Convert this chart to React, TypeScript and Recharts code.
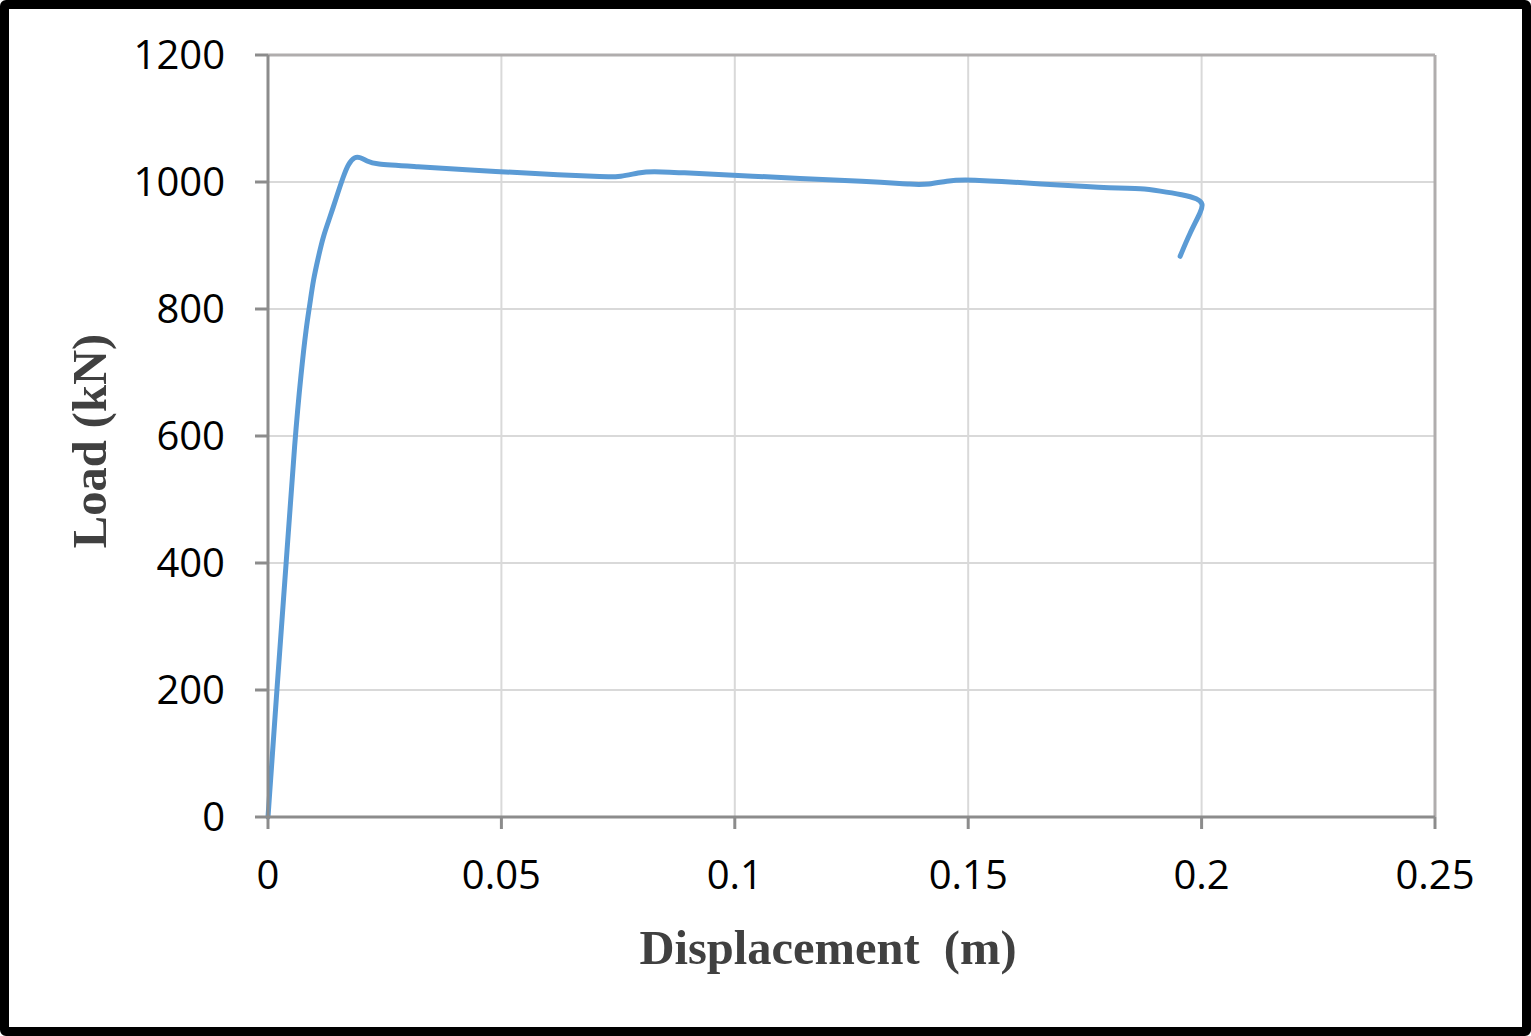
import { LineChart, Line, XAxis, YAxis, CartesianGrid, ReferenceLine } from 'recharts';

const displacement = [
  0, 0.002, 0.0039, 0.0058, 0.0071, 0.0082, 0.009, 0.0097, 0.0108, 0.0118, 0.0133, 0.0147,
  0.0161, 0.0172, 0.0186, 0.0197, 0.0212, 0.0229, 0.03, 0.05, 0.0626, 0.072, 0.0755, 0.0795,
  0.0823, 0.088, 0.101, 0.131, 0.138, 0.1415, 0.1455, 0.149, 0.155, 0.174, 0.183, 0.1868,
  0.191, 0.196, 0.1992, 0.2003, 0.2, 0.1975, 0.1954,
];
const load = [
  0, 211, 400, 600, 700, 772, 809, 846, 882, 914, 945, 977,
  1008, 1029, 1040, 1039, 1033, 1028, 1025, 1016, 1011, 1008, 1008, 1015,
  1017, 1015, 1010, 1000, 996, 996, 1002, 1004, 1002, 993, 990, 990,
  986, 980, 974, 966, 955, 920, 883,
];
const xTicks = [0, 0.05, 0.1, 0.15, 0.2, 0.25];
const yTicks = [0, 200, 400, 600, 800, 1000, 1200];

const data = displacement.map((x, i) => ({ x, load: load[i] }));

const axisGray = '#8c8c8c';
const tickFont = { fill: '#000', fontSize: 40, fontFamily: 'Open Sans' };
const titleFont = { fill: '#404040', fontSize: 48.5, fontWeight: 700, fontFamily: 'Liberation Serif' };

export default function App() {
  return (
    <div style={{ position: 'absolute', left: 0, top: 0, width: 1531, height: 1036, background: '#fff' }}>
      <LineChart width={1531} height={1036} data={data} margin={{ top: 55, right: 96, left: 168, bottom: 119 }}>
        <CartesianGrid stroke="#d9d9d9" strokeWidth={2} horizontalValues={yTicks} verticalValues={xTicks} />
        <XAxis
          dataKey="x"
          type="number"
          domain={[0, 0.25]}
          ticks={xTicks}
          height={100}
          stroke={axisGray}
          strokeWidth={3}
          tickSize={12}
          tickMargin={32}
          tick={tickFont}
          label={{
            content: () => (
              <text x={828} y={964} textAnchor="middle" style={titleFont}>
                {'Displacement\u00a0\u00a0(m)'}
              </text>
            ),
          }}
        />
        <YAxis
          type="number"
          domain={[0, 1200]}
          ticks={yTicks}
          width={100}
          stroke={axisGray}
          strokeWidth={3}
          tickSize={13}
          tickMargin={30}
          tick={tickFont}
          label={{
            content: () => (
              <text x={106} y={441} textAnchor="middle" transform="rotate(-90, 106, 441)" style={titleFont}>
                {'Load (kN)'}
              </text>
            ),
          }}
        />
        <ReferenceLine y={1200} stroke="#b0adad" strokeWidth={3} />
        <ReferenceLine x={0.25} stroke="#b0adad" strokeWidth={3} />
        <Line
          dataKey="load"
          type="basis"
          stroke="#5b9bd5"
          strokeWidth={5}
          strokeLinecap="round"
          dot={false}
          isAnimationActive={false}
        />
      </LineChart>
      <div
        style={{
          position: 'absolute',
          inset: 0,
          border: '9px solid #000',
          borderRadius: 6,
          boxSizing: 'border-box',
          pointerEvents: 'none',
        }}
      />
    </div>
  );
}
